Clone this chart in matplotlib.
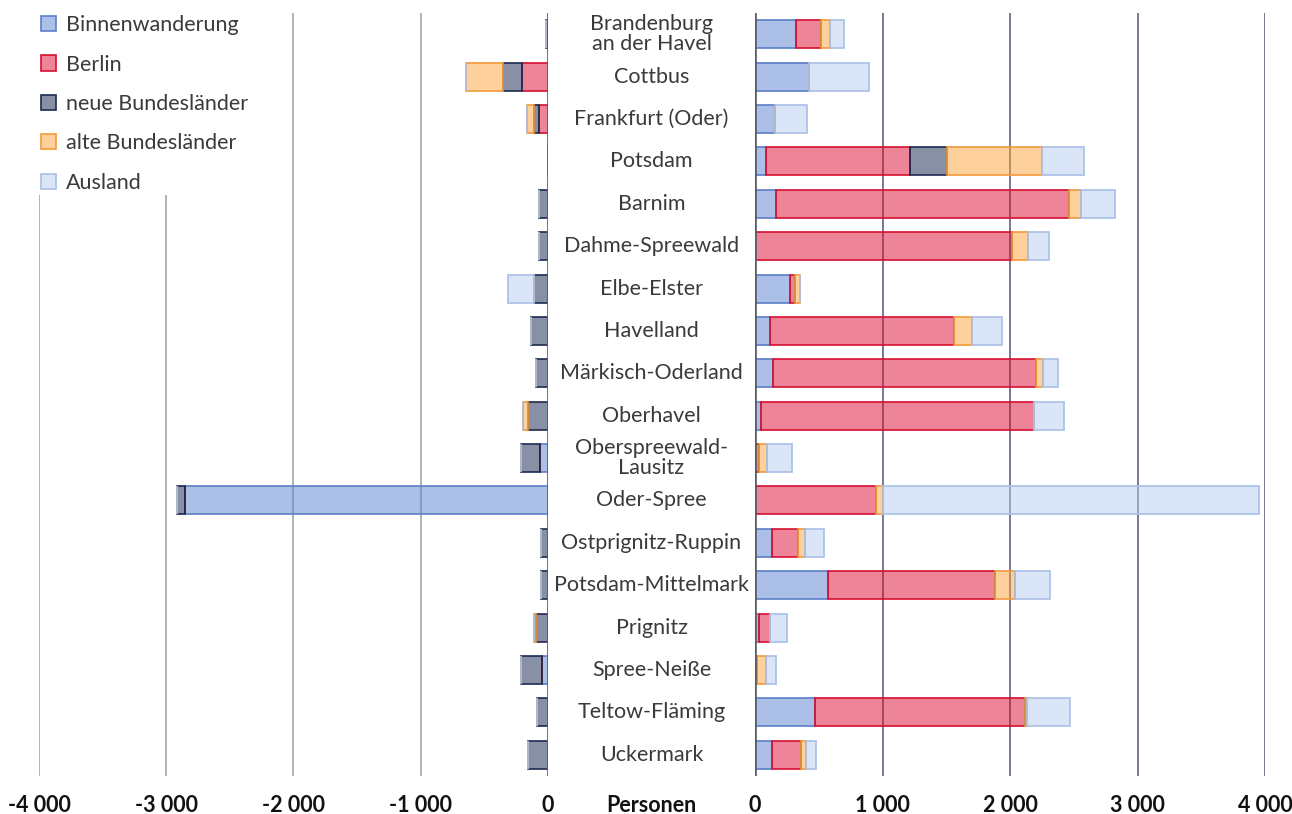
import numpy as np
import matplotlib
matplotlib.use("Agg")
import matplotlib.pyplot as plt
import matplotlib.transforms as mtransforms
from matplotlib.colors import to_rgba
from matplotlib.patches import Patch

plt.rcParams['font.family'] = ['Lato', 'DejaVu Sans']

# Kreise / kreisfreie Städte, von oben nach unten
regions = ["Brandenburg\nan der Havel", "Cottbus", "Frankfurt (Oder)", "Potsdam", "Barnim",
           "Dahme-Spreewald", "Elbe-Elster", "Havelland", "Märkisch-Oderland", "Oberhavel",
           "Oberspreewald-\nLausitz", "Oder-Spree", "Ostprignitz-Ruppin", "Potsdam-Mittelmark",
           "Prignitz", "Spree-Neiße", "Teltow-Fläming", "Uckermark"]

series = ["Binnenwanderung", "Berlin", "neue Bundesländer", "alte Bundesländer", "Ausland"]

# positive Salden (rechte Seite)
binnen_pos = [318, 421, 158, 83, 163, 0, 274, 116, 144, 47, 0, 0, 130, 571, 33, 0, 468, 130]
berlin_pos = [203, 0, 0, 1133, 2300, 2019, 39, 1444, 2061, 2141, 30, 950, 205, 1315, 83, 17, 1651, 227]
neue_pos = [0, 0, 0, 288, 0, 0, 0, 0, 0, 0, 0, 0, 0, 0, 0, 0, 0, 0]
alte_pos = [66, 0, 0, 743, 91, 125, 42, 138, 50, 0, 64, 53, 56, 156, 0, 66, 11, 42]
ausland_pos = [111, 474, 249, 337, 266, 161, 0, 236, 125, 239, 194, 2950, 149, 274, 131, 78, 338, 80]

# negative Salden (linke Seite)
binnen_neg = [0, 0, 0, 0, 0, 0, 0, 0, 0, 0, -60, -2850, 0, 0, 0, -47, 0, 0]
berlin_neg = [0, -204, -68, 0, 0, 0, 0, 0, 0, 0, 0, 0, 0, 0, 0, 0, 0, 0]
neue_neg = [-17, -152, -45, 0, -70, -72, -113, -134, -92, -155, -155, -63, -58, -58, -97, -168, -84, -157]
alte_neg = [0, -286, -49, 0, 0, 0, 0, 0, 0, -42, 0, 0, 0, 0, -13, 0, 0, 0]
ausland_neg = [0, 0, 0, 0, 0, 0, -202, 0, 0, 0, 0, 0, 0, 0, 0, 0, 0, 0]

left_ticks = [-4000, -3000, -2000, -1000, 0]
left_labels = ["-4 000", "-3 000", "-2 000", "-1 000", "0"]
right_ticks = [0, 1000, 2000, 3000, 4000]
right_labels = ["0", "1 000", "2 000", "3 000", "4 000"]

base_cols = ["#5b82d0", "#dc0a30", "#13224f", "#fda23b", "#b8cdf3"]
edge_cols = ["#5b7fc8", "#d6102f", "#1c2b50", "#f29a3a", "#a9bfe6"]

fig = plt.figure(figsize=(12.92, 8.14), dpi=100)
ax_l = fig.add_axes([0.0302, 0.0467, 0.3939, 0.9373])
ax_r = fig.add_axes([0.5844, 0.0467, 0.3947, 0.9373])

y = np.arange(len(regions))
h = 0.66

def stack(ax, parts):
    start = np.zeros(len(regions))
    for vals, bc, ec in zip(parts, base_cols, edge_cols):
        vals = np.array(vals, dtype=float)
        ax.barh(y, vals, left=start, height=h, color=to_rgba(bc, 0.5),
                edgecolor=ec, linewidth=1.2, zorder=3)
        start = start + vals

stack(ax_l, [binnen_neg, berlin_neg, neue_neg, alte_neg, ausland_neg])
stack(ax_r, [binnen_pos, berlin_pos, neue_pos, alte_pos, ausland_pos])

for ax, ticks, labels, lim in [(ax_l, left_ticks, left_labels, (-4000, 0)),
                              (ax_r, right_ticks, right_labels, (0, 4000))]:
    ax.set_xlim(lim)
    ax.set_ylim(len(regions) - 0.5, -0.5)
    ax.set_yticks([])
    ax.set_xticks(ticks)
    ax.set_xticklabels(labels, fontsize=15.5, fontweight='bold', color='#111111')
    ax.tick_params(axis='x', length=0, pad=14)
    for s in ax.spines.values():
        s.set_visible(False)
    ax.set_facecolor('none')

for t in left_ticks[:-1]:
    ax_l.axvline(t, color='#a8acb7', lw=1.3, zorder=1)
ax_l.axvline(0, color='#5d6275', lw=2.0, zorder=4)
for t in right_ticks[1:]:
    ax_r.axvline(t, color='#6b7086', lw=1.3, zorder=1)
ax_r.axvline(0, color='#575b6b', lw=2.6, zorder=4)

# Kreisnamen in der Mitte
trans = mtransforms.blended_transform_factory(fig.transFigure, ax_l.transData)
for i, name in enumerate(regions):
    fig.text(0.5043, i, name, transform=trans, ha='center', va='center',
             fontsize=15.5, color='#3a3a3a', linespacing=1.0)

fig.text(0.5043, 1 - 805 / 814, "Personen", ha='center', va='center',
         fontsize=15.5, fontweight='bold', color='#111111')

handles = [Patch(facecolor=to_rgba(bc, 0.5), edgecolor=ec, linewidth=1.2)
           for bc, ec in zip(base_cols, edge_cols)]
leg = ax_l.legend(handles, series, loc='upper left', bbox_to_anchor=(0.0, 1.0),
                  borderaxespad=0, borderpad=0.1, frameon=True, fancybox=False,
                  handlelength=0.7, handleheight=0.7, handletextpad=0.45,
                  labelspacing=0.9, prop={'size': 15.5})
leg.get_frame().set_facecolor('white')
leg.get_frame().set_edgecolor('none')
leg.get_frame().set_alpha(1)
leg.set_zorder(10)
for txt in leg.get_texts():
    txt.set_color('#3a3a3a')

fig.savefig("out.png", dpi=100)
